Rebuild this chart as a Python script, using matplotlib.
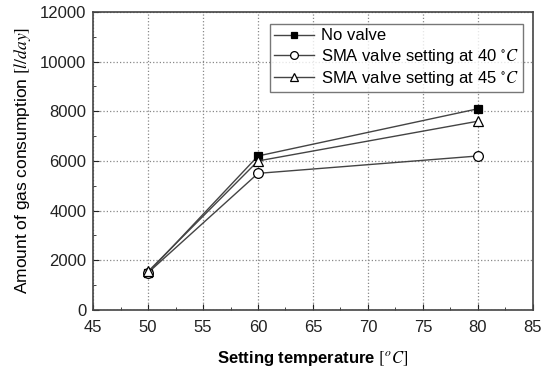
import matplotlib
matplotlib.use('Agg')
import matplotlib.pyplot as plt
from matplotlib.ticker import MultipleLocator

temps = [50, 60, 80]
no_valve = [1500, 6200, 8100]
sma_40 = [1500, 5500, 6200]
sma_45 = [1550, 6000, 7600]

plt.rcParams['font.family'] = ['Liberation Sans', 'DejaVu Sans']
plt.rcParams['mathtext.fontset'] = 'stix'

fig = plt.figure(figsize=(5.51, 3.73), dpi=100)
ax = fig.add_axes([0.169, 0.169, 0.798, 0.799])

line_kw = dict(color='#444444', lw=1.0, ms=7, mec='black', mew=0.9)
ax.plot(temps, no_valve, marker='s', mfc='black', ms=6,
        label='No valve', **{k: v for k, v in line_kw.items() if k != 'ms'})
ax.plot(temps, sma_40, marker='o', mfc='white',
        label=r'SMA valve setting at 40 $^{\circ}C$', **line_kw)
ax.plot(temps, sma_45, marker='^', mfc='white',
        label=r'SMA valve setting at 45 $^{\circ}C$', **line_kw)

ax.set_xlim(45, 85)
ax.set_ylim(0, 12000)
ax.xaxis.set_major_locator(MultipleLocator(5))
ax.xaxis.set_minor_locator(MultipleLocator(2.5))
ax.yaxis.set_major_locator(MultipleLocator(2000))
ax.yaxis.set_minor_locator(MultipleLocator(1000))
ax.tick_params(which='both', direction='in', labelsize=12, colors='#222222')
ax.tick_params(which='major', length=4)
ax.tick_params(which='minor', length=2)
ax.tick_params(axis='x', pad=7)
ax.tick_params(axis='y', pad=5)
ax.grid(True, which='major', ls=':', color='#888888', lw=0.9)
for s in ax.spines.values():
    s.set_color('#444444')
    s.set_linewidth(1.2)

ax.set_xlabel(r'Setting temperature $[^{o}C]$', fontsize=12,
              fontweight='bold', labelpad=10)
ax.set_ylabel(r'Amount of gas consumption $[l/day]$', fontsize=12.5,
              labelpad=5)

ax.legend(loc='upper right', bbox_to_anchor=(0.985, 0.97), fontsize=12,
          frameon=True, fancybox=False, edgecolor='#555555',
          handlelength=2.4, borderpad=0.25, labelspacing=0.2,
          handletextpad=0.4, markerscale=0.8, borderaxespad=0.2)

fig.savefig('out.png', dpi=100)
